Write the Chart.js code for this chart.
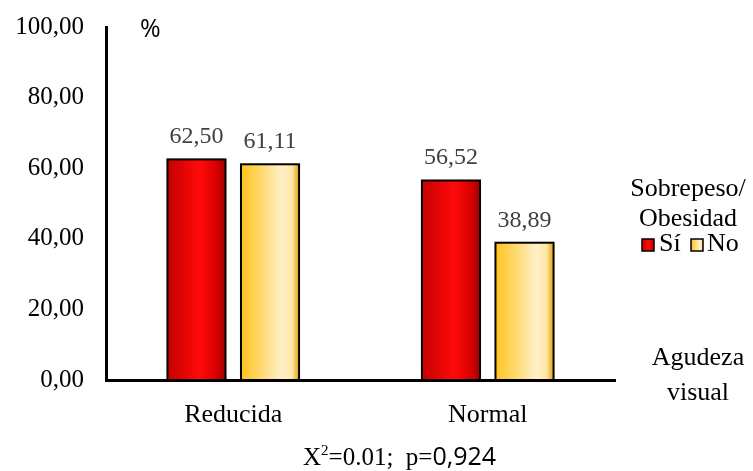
<!DOCTYPE html>
<html>
<head>
<meta charset="utf-8">
<script src="https://cdn.jsdelivr.net/npm/chart.js@4.4.1/dist/chart.umd.min.js"></script>
<style>
html,body{margin:0;padding:0;background:#fff;}
#wrap{width:753px;height:471px;}
</style>
</head>
<body>
<div id="wrap"><canvas id="c" width="753" height="471"></canvas></div>
<script>
const categories = ['Reducida', 'Normal'];
const seriesNames = ['Sí', 'No'];
const valuesSi = [62.50, 56.52];
const valuesNo = [61.11, 38.89];
const yTicks = [0, 20, 40, 60, 80, 100];

const SERIF = '"Liberation Serif", "Times New Roman", serif';
const SANS = '"Open Sans", "Liberation Sans", sans-serif';
const fmt = v => v.toFixed(2).replace('.', ',');

const gradStops = [
  [[0, '#c40000'], [0.55, '#ff0a0a'], [0.85, '#d80000'], [1, '#a00000']],
  [[0, '#ffc31a'], [0.7, '#fff0c8'], [0.88, '#ffe7a8'], [1, '#e0a000']]
];

const gradientBars = {
  id: 'gradientBars',
  beforeDatasetDraw(chart, args) {
    const ctx = chart.ctx;
    const meta = args.meta;
    const stops = gradStops[args.index];
    ctx.save();
    meta.data.forEach(el => {
      const left = el.x - el.width / 2, right = el.x + el.width / 2;
      const g = ctx.createLinearGradient(left, 0, right, 0);
      stops.forEach(s => g.addColorStop(s[0], s[1]));
      ctx.fillStyle = g;
      ctx.fillRect(left, el.y, el.width, el.base - el.y);
      ctx.lineWidth = 2;
      ctx.strokeStyle = '#000';
      ctx.strokeRect(left, el.y, el.width, el.base - el.y);
    });
    ctx.restore();
    return false;
  }
};

const extras = {
  id: 'extras',
  afterDraw(chart) {
    const ctx = chart.ctx;
    ctx.save();
    // data labels
    ctx.fillStyle = '#404040';
    ctx.font = '24px ' + SERIF;
    ctx.textAlign = 'center';
    ctx.textBaseline = 'alphabetic';
    chart.data.datasets.forEach((ds, i) => {
      chart.getDatasetMeta(i).data.forEach((el, j) => {
        ctx.fillText(fmt(ds.data[j]), el.x, el.y - 16);
      });
    });
    // % label
    ctx.fillStyle = '#000';
    ctx.font = '25px ' + SANS;
    ctx.textAlign = 'left';
    ctx.fillText('%', 140, 37);
    // legend
    ctx.font = '26px ' + SERIF;
    ctx.textAlign = 'center';
    ctx.fillText('Sobrepeso/', 688, 196);
    ctx.fillText('Obesidad', 688, 226);
    const boxes = [[642, 'Sí', 659], [691, 'No', 707]];
    boxes.forEach((b, i) => {
      const g = ctx.createLinearGradient(b[0], 0, b[0] + 12, 0);
      gradStops[i].forEach(s => g.addColorStop(s[0], s[1]));
      ctx.fillStyle = g;
      ctx.fillRect(b[0], 239, 12, 12);
      ctx.lineWidth = 1.5;
      ctx.strokeStyle = '#000';
      ctx.strokeRect(b[0], 239, 12, 12);
      ctx.fillStyle = '#000';
      ctx.textAlign = 'left';
      ctx.fillText(seriesNames[i], b[2], 251);
    });
    // axis title
    ctx.textAlign = 'center';
    ctx.fillText('Agudeza', 698, 365);
    ctx.fillText('visual', 698, 400);
    // footer
    ctx.textAlign = 'left';
    let x = 303;
    ctx.font = '25px ' + SERIF;
    ctx.fillText('X', x, 465); x += ctx.measureText('X').width;
    ctx.font = '15px ' + SERIF;
    ctx.fillText('2', x, 455); x += ctx.measureText('2').width;
    ctx.font = '25px ' + SERIF;
    const t = '=0.01;  p=';
    ctx.fillText(t, x, 465); x += ctx.measureText(t).width;
    ctx.font = '25px ' + SANS;
    ctx.fillText('0,924', x, 465);
    ctx.restore();
  }
};

new Chart(document.getElementById('c'), {
  type: 'bar',
  data: {
    labels: categories,
    datasets: [
      { label: seriesNames[0], data: valuesSi, backgroundColor: '#ff0000', borderColor: '#000', borderWidth: 2 },
      { label: seriesNames[1], data: valuesNo, backgroundColor: '#ffe08a', borderColor: '#000', borderWidth: 2 }
    ]
  },
  options: {
    responsive: false,
    animation: false,
    categoryPercentage: 0.578,
    barPercentage: 0.79,
    layout: { padding: { left: 0, right: 138, top: 27, bottom: 41 } },
    plugins: { legend: { display: false }, tooltip: { enabled: false } },
    scales: {
      x: {
        grid: { display: false, drawTicks: false },
        border: { display: true, color: '#000', width: 3 },
        ticks: { color: '#000', font: { family: SERIF, size: 26 }, padding: 20 },
        afterFit(s) { s.height = 50; s.paddingLeft = 0; s.paddingRight = 0; }
      },
      y: {
        min: 0, max: 100,
        afterBuildTicks(s) { s.ticks = yTicks.map(v => ({ value: v })); },
        grid: { display: false, drawTicks: false },
        border: { display: true, color: '#000', width: 3 },
        ticks: { color: '#000', font: { family: SERIF, size: 25 }, padding: 22, callback: v => fmt(v) },
        afterFit(s) { s.width = 106; s.paddingTop = 0; s.paddingBottom = 0; }
      }
    }
  },
  plugins: [gradientBars, extras]
});
</script>
</body>
</html>
